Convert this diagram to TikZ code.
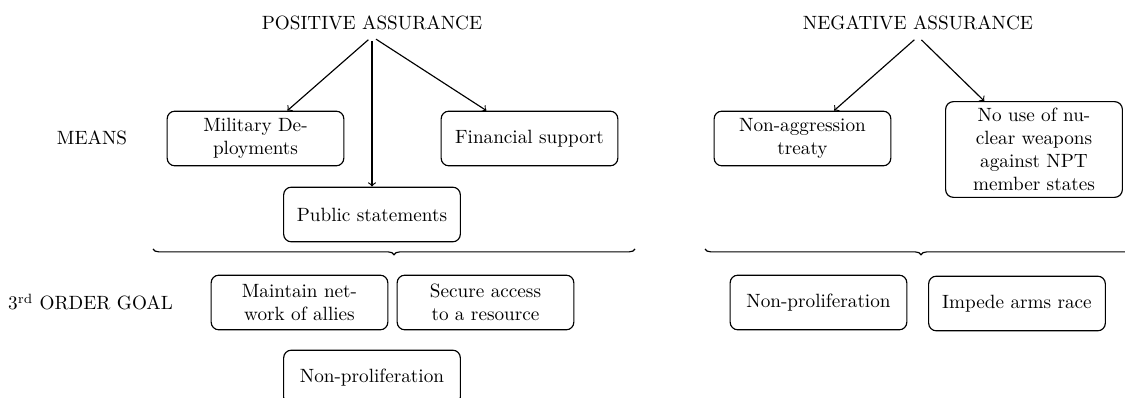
\documentclass[tikz,border=0pt]{standalone}
\usetikzlibrary{decorations.pathreplacing}
\begin{document}
\begin{tikzpicture}[x=0.5208pt,y=-0.5208pt, semithick,
  box/.style={draw, rounded corners=4pt, text width=3cm, align=center, minimum height=1cm, inner sep=0.3333em},
  lbl/.style={inner sep=0.3333em},
  arr/.style={->, shorten <=2.5pt},
  brc/.style={decorate, decoration={brace, mirror, amplitude=3pt}}]
\useasboundingbox (0,0) rectangle (1125,398);
\clip (0,0) rectangle (1125,398);
% headings
\node[lbl] (pa) at (372,22.5) {POSITIVE ASSURANCE};
\node[lbl] (na) at (918,22.5) {NEGATIVE ASSURANCE};
% row labels
\node[lbl, anchor=base] (means) at (92,145) {MEANS};
\node[lbl, anchor=base] (goal) at (90.5,310) {3\textsuperscript{rd} ORDER GOAL};
% means boxes
\node[box] (mil) at (255.5,138.5) {Military Deployments};
\node[box] (fin) at (529.5,138.5) {Financial support};
\node[box] (pub) at (372,214.5) {Public statements};
\node[box] (nag) at (802.5,138.5) {Non-aggression treaty};
\node[box] (npt) at (1034,149.5) {No use of nuclear weapons against NPT member states};
% goal boxes
\node[box] (maint) at (299.5,302.5) {Maintain network of allies};
\node[box] (sec) at (485.5,302.5) {Secure access to a resource};
\node[box] (npa) at (372,377.5) {Non-proliferation};
\node[box] (npb) at (818.5,302.5) {Non-proliferation};
\node[box] (imp) at (1017,303.5) {Impede arms race};
% arrows
\draw[arr] (pa.south) -- (mil);
\draw[arr] (pa.south) -- (pub);
\draw[arr] (pa.south) -- (fin);
\draw[arr] (na.south) -- (nag);
\draw[arr] (na.south) -- (npt);
% braces
\coordinate (b1s) at (153,249);
\coordinate (b1e) at (635,249);
\coordinate (b2s) at (705,249);
\coordinate (b2e) at (1137,249);
\draw[brc] (b1s) -- (b1e);
\draw[brc] (b2s) -- (b2e);
\end{tikzpicture}
\end{document}
